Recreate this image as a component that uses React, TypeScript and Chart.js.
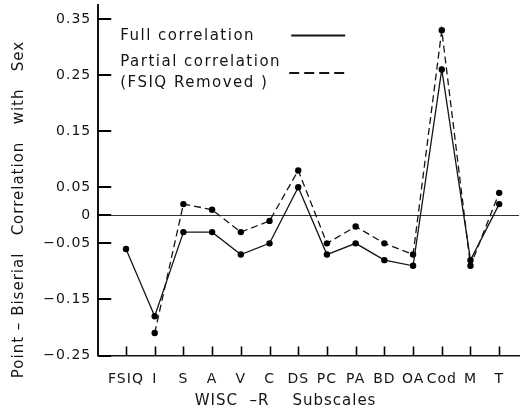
import { useEffect, useRef } from 'react';
import { Chart, registerables } from 'chart.js';

Chart.register(...registerables);

const categories = ['FSIQ', 'I', 'S', 'A', 'V', 'C', 'DS', 'PC', 'PA', 'BD', 'OA', 'Cod', 'M', 'T'];
const fullCorrelation = [-0.06, -0.18, -0.03, -0.03, -0.07, -0.05, 0.05, -0.07, -0.05, -0.08, -0.09, 0.26, -0.08, 0.02];
const partialCorrelation = [null, -0.21, 0.02, 0.01, -0.03, -0.01, 0.08, -0.05, -0.02, -0.05, -0.07, 0.33, -0.09, 0.04];
const yTickValues = [0.35, 0.25, 0.15, 0.05, 0, -0.05, -0.15, -0.25];
const yTickLabels = ['0.35', '0.25', '0.15', '0.05', '0', '\u22120.05', '\u22120.15', '\u22120.25'];
const legendLabels = ['Full correlation', 'Partial correlation', '(FSIQ Removed )'];
const xTitle = 'WISC  \u2013R    Subscales        ';
const yTitle = 'Point \u2013 Biserial   Correlation   with   Sex';

const INK = '#141414';
const FAMILY = '"DejaVu Sans", sans-serif';

const spacingPlugin = {
  id: 'spacing',
  beforeUpdate(chart: any) {
    chart.ctx.letterSpacing = '1px';
  },
  beforeDraw(chart: any) {
    chart.ctx.letterSpacing = '1px';
  },
};

const innerTicksPlugin = {
  id: 'innerTicks',
  afterDraw(chart: any) {
    const { ctx, chartArea } = chart;
    const xScale = chart.scales.x;
    const yScale = chart.scales.y;
    ctx.save();
    ctx.strokeStyle = '#000';
    ctx.lineWidth = 2;
    ctx.setLineDash([]);
    yTickValues.forEach((v) => {
      const y = Math.round(yScale.getPixelForValue(v));
      ctx.fillStyle = '#000';
      ctx.fillRect(chartArea.left, y - 1, 13, 2);
    });
    ctx.lineWidth = 1.6;
    categories.forEach((_, i) => {
      const x = Math.round(xScale.getPixelForValue(i)) + 0.5;
      ctx.beginPath();
      ctx.moveTo(x, chartArea.bottom);
      ctx.lineTo(x, chartArea.bottom - 9);
      ctx.stroke();
    });
    ctx.restore();
  },
};

const legendPlugin = {
  id: 'customLegend',
  afterDraw(chart: any) {
    const { ctx, chartArea } = chart;
    const x0 = chartArea.left;
    const y0 = chartArea.top;
    ctx.save();
    ctx.fillStyle = INK;
    ctx.font = '15px ' + FAMILY;
    ctx.letterSpacing = '1.5px';
    ctx.textAlign = 'left';
    ctx.textBaseline = 'alphabetic';
    ctx.fillText(legendLabels[0], x0 + 22, y0 + 35);
    ctx.fillText(legendLabels[1], x0 + 22, y0 + 61);
    ctx.fillText(legendLabels[2], x0 + 22, y0 + 82);
    ctx.strokeStyle = INK;
    ctx.lineWidth = 2;
    ctx.beginPath();
    ctx.moveTo(x0 + 193, y0 + 30.5);
    ctx.lineTo(x0 + 247, y0 + 30.5);
    ctx.stroke();
    ctx.setLineDash([10, 5]);
    ctx.beginPath();
    ctx.moveTo(x0 + 191, y0 + 68);
    ctx.lineTo(x0 + 247, y0 + 68);
    ctx.stroke();
    ctx.restore();
  },
};

export default function App() {
  const canvasRef = useRef<HTMLCanvasElement | null>(null);

  useEffect(() => {
    if (!canvasRef.current) return;
    Chart.defaults.font.family = FAMILY;
    const toPoints = (arr: (number | null)[]) =>
      arr.map((v, i) => (v === null ? null : { x: i, y: v })).filter((p) => p !== null);

    const chart = new Chart(canvasRef.current, {
      type: 'line',
      data: {
        datasets: [
          {
            label: 'Full correlation',
            data: toPoints(fullCorrelation) as any,
            borderColor: INK,
            backgroundColor: INK,
            borderWidth: 1.3,
            pointRadius: 3.2,
            pointBackgroundColor: '#000',
            pointBorderWidth: 0,
            tension: 0,
          },
          {
            label: 'Partial correlation (FSIQ Removed)',
            data: toPoints(partialCorrelation) as any,
            borderColor: INK,
            backgroundColor: INK,
            borderWidth: 1.3,
            borderDash: [7, 4],
            pointRadius: 3.2,
            pointBackgroundColor: '#000',
            pointBorderWidth: 0,
            tension: 0,
          },
        ],
      },
      options: {
        animation: false,
        responsive: false,
        events: [],
        layout: { padding: { left: 10.6, right: 2, top: 5, bottom: 0 } },
        plugins: {
          legend: { display: false },
          tooltip: { enabled: false },
          title: {
            display: true,
            position: 'left',
            text: yTitle,
            color: INK,
            font: { size: 15, weight: 'normal' },
            padding: 0,
            fullSize: true,
          },
        },
        scales: {
          x: {
            type: 'linear',
            min: -0.968,
            max: 13.69,
            afterBuildTicks: (s: any) => {
              s.ticks = categories.map((_, i) => ({ value: i }));
            },
            afterFit: (s: any) => {
              s.height = 58.5;
              s.paddingLeft = 0;
              s.paddingRight = 0;
            },
            ticks: {
              callback: (v: any) => categories[v] ?? '',
              color: INK,
              font: { size: 14 },
              padding: 15,
              maxRotation: 0,
              autoSkip: false,
            },
            grid: { display: false, drawTicks: false },
            border: { display: true, color: INK, width: 1.5 },
            title: {
              display: true,
              text: xTitle,
              color: INK,
              font: { size: 15 },
              padding: { top: 0, bottom: 4 },
            },
          },
          y: {
            type: 'linear',
            min: -0.25,
            max: 0.375,
            afterBuildTicks: (s: any) => {
              s.ticks = yTickValues.map((v) => ({ value: v }));
            },
            afterFit: (s: any) => {
              s.width = 69.6;
              s.paddingTop = 0;
              s.paddingBottom = 0;
            },
            ticks: {
              callback: (v: any) => {
                const i = yTickValues.indexOf(v);
                return i >= 0 ? yTickLabels[i] : '';
              },
              color: INK,
              font: { size: 14 },
              padding: 7,
              autoSkip: false,
            },
            grid: {
              drawTicks: false,
              color: (ctx: any) => (ctx.tick && ctx.tick.value === 0 ? '#333' : 'rgba(0,0,0,0)'),
              lineWidth: 1,
            },
            border: { display: true, color: INK, width: 2 },
          },
        },
      },
      plugins: [spacingPlugin, innerTicksPlugin, legendPlugin],
    } as any);

    return () => chart.destroy();
  }, []);

  return (
    <div style={{ position: 'absolute', left: 0, top: 0, width: 523, height: 414, background: '#fff' }}>
      <canvas ref={canvasRef} width={523} height={414} />
    </div>
  );
}
